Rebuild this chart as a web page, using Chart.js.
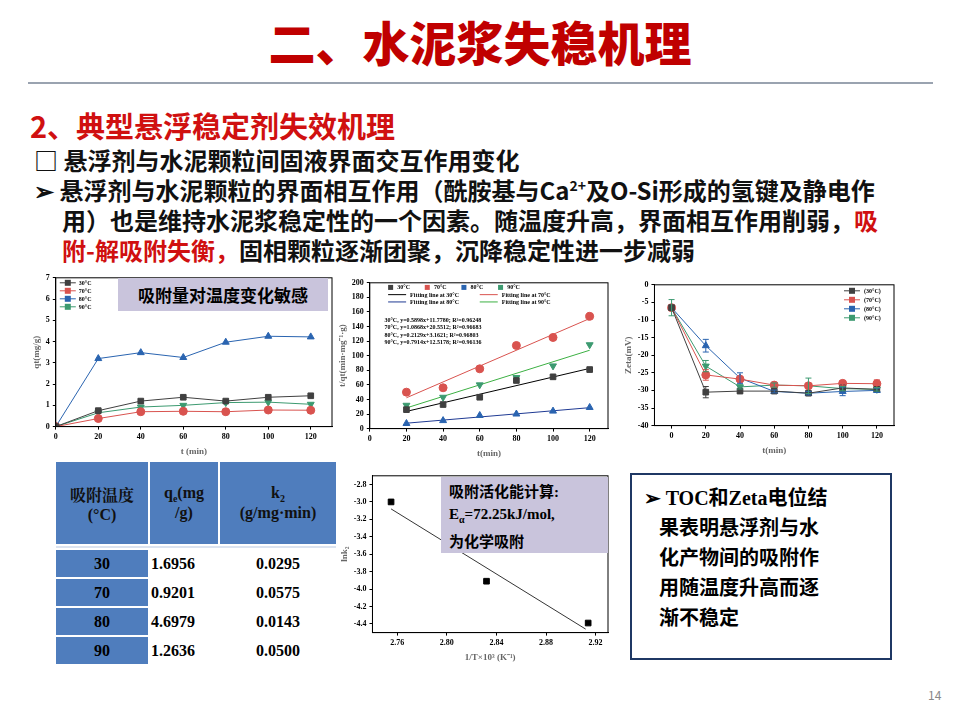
<!DOCTYPE html>
<html><head><meta charset="utf-8">
<script src="https://cdn.jsdelivr.net/npm/chart.js@4/dist/chart.umd.min.js"></script>
<style>
body{margin:0;width:960px;height:720px;background:#fff;position:relative;overflow:hidden;font-family:"Noto Sans CJK SC",sans-serif}
.a{position:absolute}
.t{font-weight:bold;font-size:24px;color:#111;white-space:nowrap}
.r{color:#d01010}
canvas{position:absolute}
table{border-collapse:separate;border-spacing:2px;font-family:"Liberation Serif","Noto Serif CJK SC",serif;font-weight:bold}
td{text-align:center;font-size:16px}
</style></head><body>
<div class="a" style="left:0;width:960px;top:6px;text-align:center;font-size:47px;font-weight:900;color:#c00000">二、水泥浆失稳机理</div>
<div class="a" style="left:28px;width:905px;top:82px;height:2px;background:#9aa3b0"></div>
<div class="a t r" style="left:30px;top:104px;font-size:29px">2、典型悬浮稳定剂失效机理</div>
<div class="a t" style="left:34px;top:142px">□ 悬浮剂与水泥颗粒间固液界面交互作用变化</div>
<div class="a t" style="left:34px;top:172px">➢ 悬浮剂与水泥颗粒的界面相互作用（酰胺基与Ca<sup style="font-size:14px">2+</sup>及O-Si形成的氢键及静电作</div>
<div class="a t" style="left:62px;top:202px">用）也是维持水泥浆稳定性的一个因素。随温度升高，界面相互作用削弱，<span class="r">吸</span></div>
<div class="a t" style="left:62px;top:232px"><span class="r">附-解吸附失衡，</span>固相颗粒逐渐团聚，沉降稳定性进一步减弱</div>

<canvas id="c1" class="a" style="left:30px;top:270px;width:310px;height:188px" width="310" height="188"></canvas>
<canvas id="c2" class="a" style="left:336px;top:275px;width:280px;height:185px" width="280" height="185"></canvas>
<canvas id="c3" class="a" style="left:622px;top:277px;width:280px;height:180px" width="280" height="180"></canvas>
<canvas id="c4" class="a" style="left:338px;top:468px;width:278px;height:196px" width="278" height="196"></canvas>

<div class="a" style="left:118px;top:278px;width:210px;height:33px;background:#c9c4dc;font-size:17px;font-weight:bold;text-align:center;line-height:33px">吸附量对温度变化敏感</div>
<div class="a" style="left:441px;top:477px;width:167px;height:76px;background:#c9c4dc;font-size:15px;font-weight:bold;padding:4px 8px;box-sizing:border-box;line-height:22px;font-family:'Liberation Serif','Noto Sans CJK SC',serif">吸附活化能计算:<br>E<sub style="font-size:10px">α</sub>=72.25kJ/mol,<br>为化学吸附</div>

<table class="a" style="left:54px;top:460px;width:284px">
<tr style="height:82px"><td style="background:#4f7dbd;color:#111;width:90px">吸附温度<br>(°C)</td><td style="background:#4f7dbd;color:#111">q<sub style="font-size:10px">e</sub>(mg<br>/g)</td><td style="background:#4f7dbd;color:#111">k<sub style="font-size:10px">2</sub><br>(g/mg·min)</td></tr>
<tr style="height:2px"><td colspan="3" style="background:#dbe3f0"></td></tr>
<tr style="height:27px"><td style="background:#4f7dbd">30</td><td style="text-align:left">1.6956</td><td>0.0295</td></tr>
<tr style="height:27px"><td style="background:#4f7dbd">70</td><td style="text-align:left">0.9201</td><td>0.0575</td></tr>
<tr style="height:27px"><td style="background:#4f7dbd">80</td><td style="text-align:left">4.6979</td><td>0.0143</td></tr>
<tr style="height:27px"><td style="background:#4f7dbd">90</td><td style="text-align:left">1.2636</td><td>0.0500</td></tr>
</table>

<div class="a" style="left:630px;top:473px;width:262px;height:187px;border:2px solid #1f3864;box-sizing:border-box;padding:8px 10px 0 12px;font-size:20px;font-weight:bold;line-height:30px;font-family:'Liberation Serif','Noto Sans CJK SC',serif">➢ TOC和Zeta电位结<br>&nbsp;&nbsp;&nbsp;果表明悬浮剂与水<br>&nbsp;&nbsp;&nbsp;化产物间的吸附作<br>&nbsp;&nbsp;&nbsp;用随温度升高而逐<br>&nbsp;&nbsp;&nbsp;渐不稳定</div>
<div class="a" style="left:928px;top:686px;font-size:12px;color:#888">14</div>

<script>
// ---- data ----
const tMin = [0, 20, 40, 60, 80, 100, 120];
const seriesNames = ['30°C', '70°C', '80°C', '90°C'];
const colors = ['#404040', '#d9534f', '#2a64b0', '#3c9a70'];
const qt30 = [0, 0.75, 1.2, 1.38, 1.2, 1.38, 1.45];
const qt70 = [0, 0.38, 0.7, 0.72, 0.7, 0.78, 0.77];
const qt80 = [0, 3.2, 3.48, 3.25, 3.97, 4.25, 4.22];
const qt90 = [0, 0.65, 0.92, 1.0, 1.13, 1.15, 1.05];

const tFit = [20, 40, 60, 80, 100, 120];
const tq30 = [26, 33, 43, 66, 71, 81];
const tq70 = [50, 56, 82, 114, 125, 154];
const tq80 = [7, 11, 18, 20, 24, 29];
const tq90 = [32, 43, 60, 70, 86, 115];
const slopes = [0.5898, 1.0868, 0.2129, 0.7914];
const intercepts = [11.7780, 20.5512, 3.1621, 12.5178];

const zeta30 = [-6.5, -30.5, -30.2, -30.2, -30.8, -29.3, -29.7];
const zeta70 = [-6.5, -25.6, -26.8, -28.5, -28.7, -28.0, -28.1];
const zeta80 = [-6.5, -17.3, -26.5, -30.3, -30.8, -30.3, -30.0];
const zeta90 = [-6.5, -23.1, -29.0, -28.5, -28.7, -29.5, -29.7];
const err30 = [0, 1.6, 0.5, 0.4, 0.5, 0.6, 0.5];
const err70 = [0, 1.5, 0.6, 0.5, 0.6, 0.7, 1.1];
const err80 = [0, 1.8, 1.5, 0.4, 0.5, 1.2, 0.6];
const err90 = [2.3, 1.6, 0.6, 0.6, 2.2, 0.6, 0.5];

const invT = [2.755, 2.832, 2.914];
const lnk2 = [-3.0, -3.91, -4.39];
const fitX = [2.755, 2.912];
const fitY = [-3.08, -4.46];
const xTicks4 = [2.76, 2.80, 2.84, 2.88, 2.92];
const yTicks4 = [-2.8, -3.0, -3.2, -3.4, -3.6, -3.8, -4.0, -4.2, -4.4];

const ff = {family: 'Liberation Serif', weight: 'bold', size: 8};
const frame = {id: 'frame', afterDraw(c) {
  const a = c.chartArea, x = c.ctx;
  x.save(); x.strokeStyle = '#000'; x.lineWidth = 1;
  x.strokeRect(a.left, a.top, a.right - a.left, a.bottom - a.top); x.restore();
}};
function axis(min, max, step, title, fixed, fmt) {
  const o = {type: 'linear', min, max,
    ticks: {stepSize: step, font: ff, color: '#000', autoSkip: false, maxRotation: 0},
    grid: {drawOnChartArea: false, tickLength: 3, color: '#000'},
    border: {color: '#000'},
    title: {display: true, text: title, font: {family: 'Liberation Serif', weight: 'bold', size: 9}, padding: 1}};
  if (fixed) o.afterBuildTicks = ax => { ax.ticks = fixed.map(v => ({value: v})); };
  if (fmt) o.ticks.callback = fmt;
  return o;
}
function pts(xs, ys) { return xs.map((v, i) => ({x: v, y: ys[i]})); }
const base = {responsive: false, animation: false, layout: {padding: {right: 8, top: 6}}};

// chart 1
const q = [qt30, qt70, qt80, qt90], shapes = ['rect', 'circle', 'triangle', 'triangle'];
new Chart(document.getElementById('c1'), {
  type: 'line',
  data: {datasets: q.map((d, i) => ({label: seriesNames[i], data: pts(tMin, d), borderColor: colors[i],
    backgroundColor: colors[i], pointStyle: shapes[i], rotation: i == 3 ? 180 : 0, pointRadius: 4, borderWidth: 1}))},
  options: Object.assign({}, base, {
    plugins: {legend: {display: false}},
    scales: {x: axis(0, 130, 20, 't (min)', tMin), y: axis(0, 7, 1, 'qt(mg/g)')}}),
  plugins: [frame, {id: 'lg1', afterDraw(c) {
    const x = c.ctx, a = c.chartArea; x.save(); x.font = 'bold 6px "Liberation Serif"';
    seriesNames.forEach((n, i) => { const py = a.top + 5 + i * 8; x.strokeStyle = x.fillStyle = colors[i];
      x.beginPath(); x.moveTo(a.left + 4, py); x.lineTo(a.left + 20, py); x.stroke(); x.fillRect(a.left + 9, py - 3, 6, 6);
      x.fillStyle = '#000'; x.fillText(n, a.left + 23, py + 2); }); x.restore(); }}]
});

// chart 2
const tq = [tq30, tq70, tq80, tq90], sh2 = ['rect', 'circle', 'triangle', 'triangle'];
const lineColors = ['#000', '#d9534f', '#1f3a93', '#3cb043'];
const ds2 = tq.map((d, i) => ({type: 'scatter', label: seriesNames[i], data: pts(tFit, d), backgroundColor: colors[i],
  borderColor: colors[i], pointStyle: sh2[i], rotation: i == 3 ? 180 : 0, pointRadius: 4}));
slopes.forEach((s, i) => ds2.push({type: 'line', label: 'Fitting line at ' + seriesNames[i], borderColor: lineColors[i], borderWidth: 1,
  pointRadius: 0, data: [{x: 20, y: s * 20 + intercepts[i]}, {x: 120, y: s * 120 + intercepts[i]}]}));
const eq2 = {id: 'eq', afterDraw(c) {
  const x = c.ctx, sx = c.scales.x, sy = c.scales.y;
  x.save(); x.font = 'bold 6px "Liberation Serif"'; x.fillStyle = '#000';
  slopes.forEach((s, i) => x.fillText(seriesNames[i] + ', y=' + s.toFixed(4) + 'x+' + intercepts[i].toFixed(4) + '; R²=0.96' + [248, 683, 803, 136][i], sx.getPixelForValue(8), sy.getPixelForValue(146 - i * 10)));
  seriesNames.forEach((n, i) => { x.fillStyle = colors[i]; x.fillRect(sx.getPixelForValue(10 + i * 20), sy.getPixelForValue(193) - 3, 5, 5); x.fillStyle = '#000'; x.fillText(n, sx.getPixelForValue(15 + i * 20), sy.getPixelForValue(191)); });
  [0, 1, 2, 3].forEach(i => { const col = i % 2, row = Math.floor(i / 2); const px = sx.getPixelForValue(10 + col * 50), py = sy.getPixelForValue(181 - row * 10);
    x.strokeStyle = lineColors[i]; x.beginPath(); x.moveTo(px, py - 2); x.lineTo(px + 18, py - 2); x.stroke(); x.fillText('Fitting line at ' + seriesNames[i], px + 22, py); });
  x.restore();
}};
new Chart(document.getElementById('c2'), {
  type: 'scatter', data: {datasets: ds2},
  options: Object.assign({}, base, {plugins: {legend: {display: false}},
    scales: {x: axis(0, 130, 20, 't(min)', tMin), y: axis(0, 200, 20, 't/qt(min·mg⁻¹·g)')}}),
  plugins: [frame, eq2]
});

// chart 3
const z = [zeta30, zeta70, zeta80, zeta90], errs = [err30, err70, err80, err90];
const errPlug = {id: 'err', afterDatasetsDraw(c) {
  const x = c.ctx, sx = c.scales.x, sy = c.scales.y;
  x.save(); x.lineWidth = 1;
  z.forEach((d, i) => d.forEach((v, j) => { const e = errs[i][j]; if (!e) return;
    const px = sx.getPixelForValue(tMin[j]); x.strokeStyle = colors[i]; x.beginPath();
    x.moveTo(px, sy.getPixelForValue(v - e)); x.lineTo(px, sy.getPixelForValue(v + e));
    x.moveTo(px - 3, sy.getPixelForValue(v - e)); x.lineTo(px + 3, sy.getPixelForValue(v - e));
    x.moveTo(px - 3, sy.getPixelForValue(v + e)); x.lineTo(px + 3, sy.getPixelForValue(v + e)); x.stroke(); }));
  x.restore();
}};
new Chart(document.getElementById('c3'), {
  type: 'line',
  data: {datasets: z.map((d, i) => ({label: '(' + seriesNames[i] + ')', data: pts(tMin, d), borderColor: colors[i], backgroundColor: colors[i],
    pointStyle: shapes[i], rotation: i == 3 ? 180 : 0, pointRadius: 4, borderWidth: 1}))},
  options: Object.assign({}, base, {
    plugins: {legend: {display: false}},
    scales: {x: axis(-10, 130, 20, 't(min)', tMin), y: axis(-40, 0, 5, 'Zeta(mV)')}}),
  plugins: [frame, errPlug, {id: 'lg3', afterDraw(c) {
    const x = c.ctx, a = c.chartArea; x.save(); x.font = 'bold 6px "Liberation Serif"';
    seriesNames.forEach((n, i) => { const py = a.top + 6 + i * 9; x.strokeStyle = x.fillStyle = colors[i];
      x.beginPath(); x.moveTo(a.right - 50, py); x.lineTo(a.right - 34, py); x.stroke(); x.fillRect(a.right - 45, py - 3, 6, 6);
      x.fillStyle = '#000'; x.fillText('(' + n + ')', a.right - 30, py + 2); }); x.restore(); }}]
});

// chart 4
new Chart(document.getElementById('c4'), {
  type: 'scatter',
  data: {datasets: [
    {data: pts(invT, lnk2), pointStyle: 'rect', pointRadius: 4, backgroundColor: '#000', borderColor: '#000'},
    {type: 'line', data: pts(fitX, fitY), borderColor: '#000', borderWidth: 0.8, pointRadius: 0}]},
  options: Object.assign({}, base, {plugins: {legend: {display: false}},
    scales: {x: axis(2.74, 2.93, 0.04, '1/T×10³ (K⁻¹)', xTicks4, v => v.toFixed(2)),
      y: axis(-4.5, -2.7, 0.2, 'lnk₂', yTicks4, v => v.toFixed(1))}}),
  plugins: [frame]
});
</script>
</body></html>
